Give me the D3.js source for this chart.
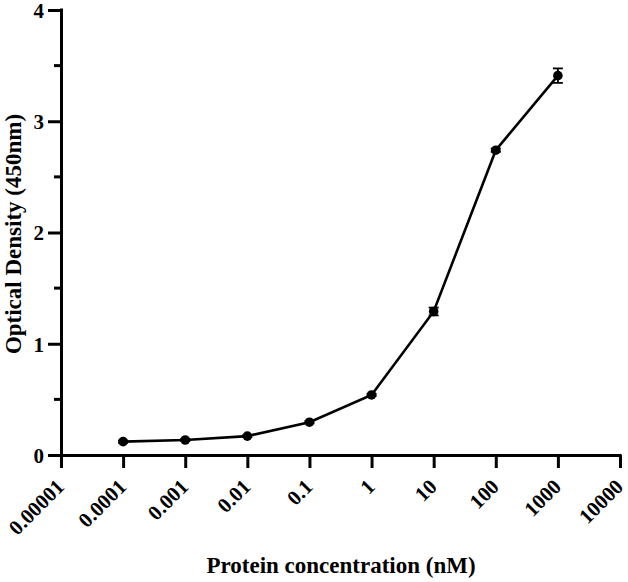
<!DOCTYPE html>
<html><head><meta charset="utf-8">
<script src="https://cdn.jsdelivr.net/npm/d3@7"></script>
<style>body{margin:0;background:#fff}svg text{font-family:"Liberation Serif","Times New Roman",serif;font-weight:bold}</style>
</head><body><svg id="c" width="628" height="582"></svg>
<script>
const concentrations = [0.0001, 0.001, 0.01, 0.1, 1, 10, 100, 1000];
const odValues = [0.12, 0.135, 0.17, 0.295, 0.54, 1.29, 2.74, 3.41];
const odErrors = [0.01, 0.01, 0.01, 0.01, 0.01, 0.035, 0.015, 0.065];
const xTicks = [0.00001, 0.0001, 0.001, 0.01, 0.1, 1, 10, 100, 1000, 10000];
const xTickLabels = ["0.00001", "0.0001", "0.001", "0.01", "0.1", "1", "10", "100", "1000", "10000"];
const yTicks = [0, 1, 2, 3, 4];
const yMinorTicks = [0.5, 1.5, 2.5, 3.5];

const svg = d3.select("#c");
const x = d3.scaleLog().domain([0.00001, 10000]).range([61, 620]);
const y = d3.scaleLinear().domain([0, 4]).range([455, 10]);

// axes
const xAxis = svg.append("g").attr("transform", "translate(0,455)")
  .call(d3.axisBottom(x).tickValues(xTicks).tickFormat((d, i) => xTickLabels[i]).tickSize(13).tickSizeOuter(0));
xAxis.select(".domain").attr("stroke-width", 3).attr("d", "M59.5,0.5H621.5");
xAxis.selectAll(".tick line").attr("stroke-width", 3);
xAxis.selectAll(".tick text").attr("font-size", 21).attr("fill", "#000")
  .attr("text-anchor", "end").attr("dy", 0).attr("y", 0)
  .attr("transform", "translate(4,33) rotate(-45)");

const yAxis = svg.append("g").attr("transform", "translate(61,0)")
  .call(d3.axisLeft(y).tickValues(yTicks).tickFormat(d3.format("d")).tickSize(13).tickSizeOuter(0));
yAxis.select(".domain").attr("stroke-width", 3).attr("d", "M0.5,8.5V456.5");
yAxis.selectAll(".tick line").attr("stroke-width", 3);
yAxis.selectAll(".tick text").attr("font-size", 21).attr("fill", "#000").attr("x", -17).attr("dy", "0.35em");
svg.append("g").selectAll("line").data(yMinorTicks).join("line")
  .attr("x1", 54).attr("x2", 61).attr("y1", d => y(d)).attr("y2", d => y(d))
  .attr("stroke", "#000").attr("stroke-width", 3);

// line
const data = concentrations.map((c, i) => ({c, v: odValues[i], e: odErrors[i]}));
svg.append("path").datum(data)
  .attr("fill", "none").attr("stroke", "#000").attr("stroke-width", 2.6)
  .attr("d", d3.line().x(d => x(d.c)).y(d => y(d.v)));

// error bars
const eb = svg.append("g").attr("stroke", "#000").attr("stroke-width", 1.8);
eb.selectAll("line.v").data(data).join("line").attr("class", "v")
  .attr("x1", d => x(d.c)).attr("x2", d => x(d.c))
  .attr("y1", d => y(d.v + d.e)).attr("y2", d => y(d.v - d.e));
eb.selectAll("line.t").data(data).join("line").attr("class", "t")
  .attr("x1", d => x(d.c) - 5).attr("x2", d => x(d.c) + 5)
  .attr("y1", d => y(d.v + d.e)).attr("y2", d => y(d.v + d.e));
eb.selectAll("line.b").data(data).join("line").attr("class", "b")
  .attr("x1", d => x(d.c) - 5).attr("x2", d => x(d.c) + 5)
  .attr("y1", d => y(d.v - d.e)).attr("y2", d => y(d.v - d.e));

// points
svg.append("g").selectAll("circle").data(data).join("circle")
  .attr("cx", d => x(d.c)).attr("cy", d => y(d.v)).attr("r", 4.8).attr("fill", "#000");

// titles
svg.append("text").attr("x", 341).attr("y", 573).attr("text-anchor", "middle")
  .attr("font-size", 23).attr("fill", "#000").text("Protein concentration (nM)");
svg.append("text").attr("transform", "translate(21,234) rotate(-90)").attr("text-anchor", "middle")
  .attr("font-size", 23).attr("fill", "#000").text("Optical Density (450nm)");
</script></body></html>
